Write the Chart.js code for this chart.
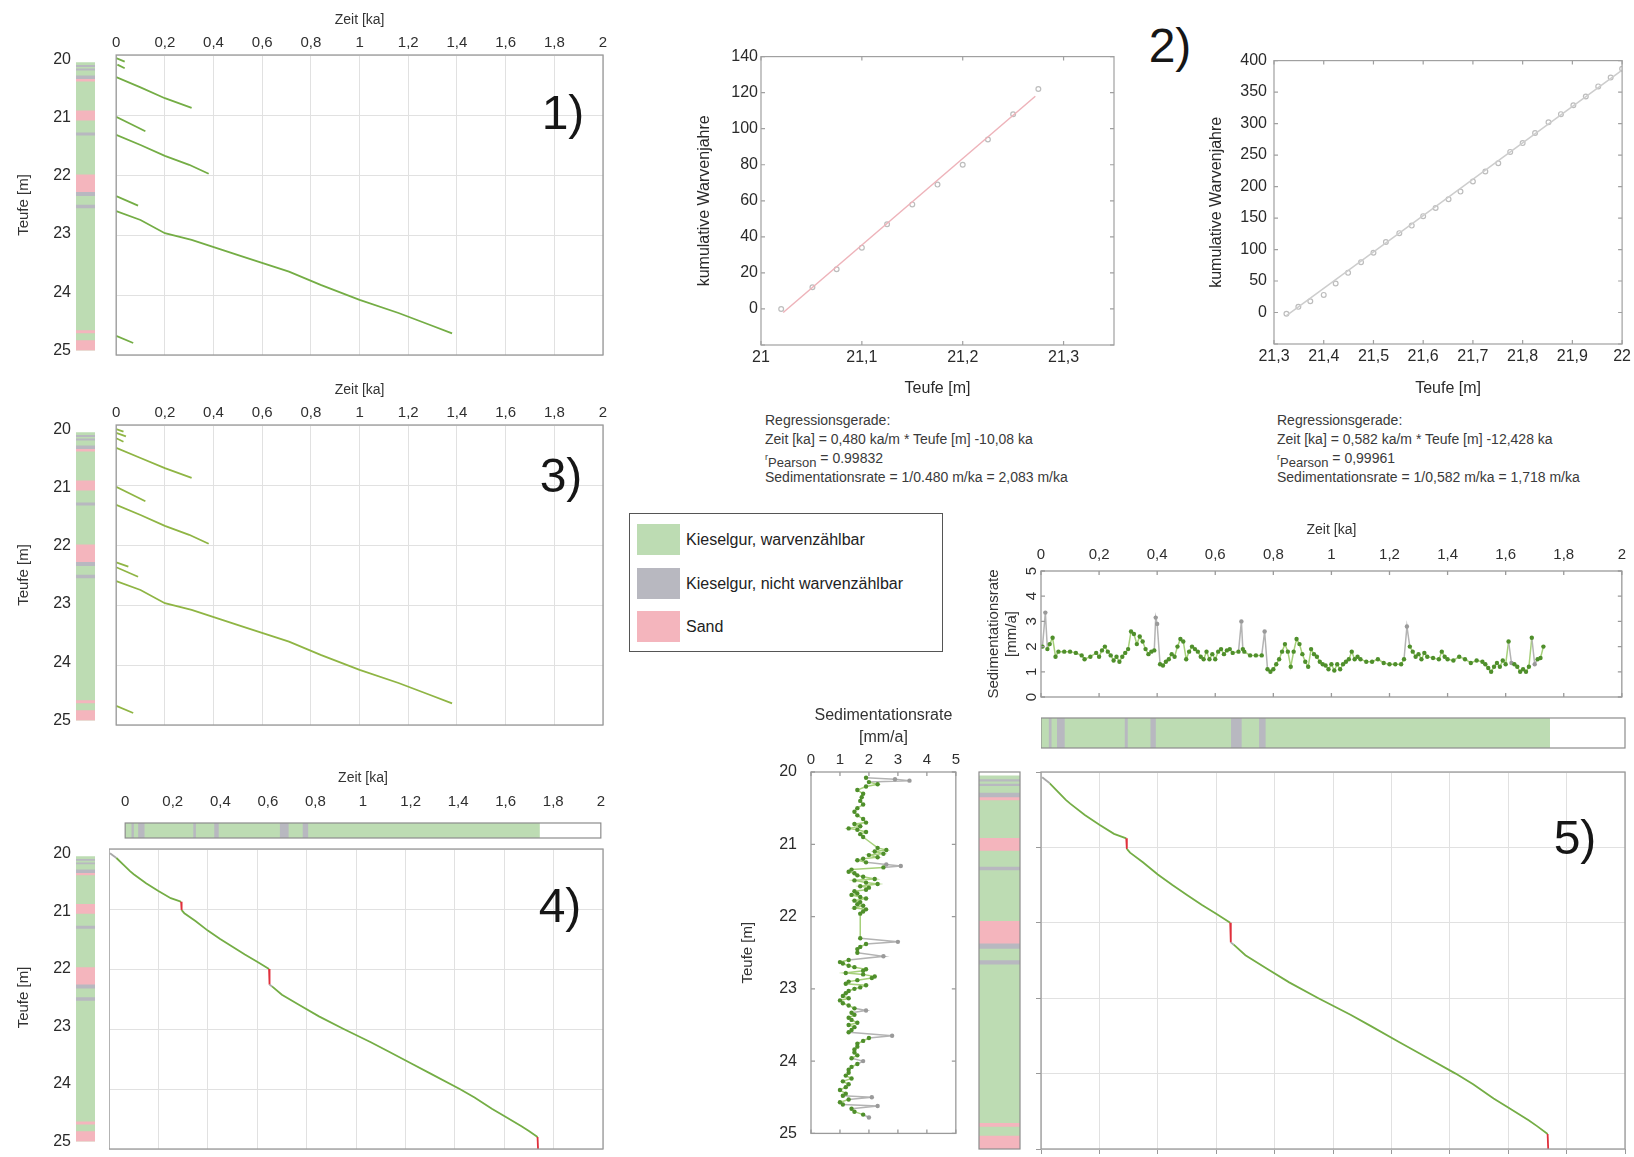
<!DOCTYPE html>
<html><head><meta charset="utf-8">
<script src="https://cdn.jsdelivr.net/npm/chart.js@4.4.1/dist/chart.umd.min.js"></script>
<style>
html,body{margin:0;padding:0;background:#fff;}
#wrap{position:relative;width:1634px;height:1157px;overflow:hidden;font-family:'Liberation Sans',Arial,Helvetica,sans-serif;background:#fff;}
#wrap canvas{position:absolute;}
.num{position:absolute;font-size:48px;line-height:1;color:#161616;transform:translate(-50%,-50%);white-space:nowrap;}
.reg{position:absolute;font-size:14px;line-height:18.5px;color:#3a3a3a;white-space:nowrap;}
.reg sub{font-size:13px;vertical-align:-4px;line-height:0;}
.reg .r{font-size:9px;vertical-align:3px;}
#legend{position:absolute;left:629px;top:513px;width:314px;height:139px;border:1.5px solid #555;box-sizing:border-box;}
.lrow{position:absolute;left:7px;height:31px;}
.lsw{position:absolute;left:0;top:0;width:43px;height:31px;}
.ltx{position:absolute;left:49px;top:0;line-height:31px;font-size:16px;color:#222;white-space:nowrap;}
</style></head>
<body><div id="wrap"></div>
<script>
// ---------------- DATA ----------------
// lithology column (depth intervals, m)
const litFrom = [20.05, 20.10, 20.16, 20.28, 20.33, 20.88, 21.26, 21.98, 22.27, 22.50, 24.66, 24.83];
const litTo   = [25.00, 20.12, 20.18, 20.33, 20.37, 21.04, 21.30, 22.27, 22.34, 22.55, 24.70, 25.00];
const litType = ['g','n','n','n','s','s','n','s','n','n','s','s'];
const legendTypes  = ['g','n','s'];
const legendLabels = ['Kieselgur, warvenzählbar','Kieselgur, nicht warvenzählbar','Sand'];

// lithology strip along time axis (ka)
const stripFrom = [0.000, 0.028, 0.056, 0.288, 0.376, 0.652, 0.748];
const stripTo   = [1.742, 0.035, 0.080, 0.296, 0.392, 0.686, 0.768];
const stripType = ['g','n','n','n','n','n','n'];

// panel 1: floating age segments (time ka / depth m)
const p1SegT = [[0,0.035],[0.005,0.035],[0,0.1,0.2,0.31],[0,0.06,0.12],[0,0.1,0.2,0.3,0.38],[0,0.09],
  [0,0.1,0.2,0.31,0.52,0.71,0.84,1.0,1.16,1.29,1.38],[0,0.07]];
const p1SegD = [[20.05,20.11],[20.16,20.22],[20.37,20.54,20.72,20.88],[21.03,21.15,21.27],[21.33,21.5,21.68,21.83,21.98],[22.35,22.51],
  [22.6,22.75,22.97,23.08,23.36,23.61,23.83,24.08,24.3,24.5,24.64],[24.68,24.8]];
// panel 3
const p3SegT = [[0,0.03],[0,0.04],[0,0.03],[0,0.1,0.2,0.31],[0,0.06,0.12],[0,0.1,0.2,0.3,0.38],[0,0.05],[0,0.09],
  [0,0.1,0.2,0.31,0.52,0.71,0.84,1.0,1.16,1.29,1.38],[0,0.07]];
const p3SegD = [[20.07,20.11],[20.13,20.19],[20.22,20.28],[20.38,20.55,20.72,20.88],[21.03,21.15,21.27],[21.33,21.5,21.68,21.83,21.98],[22.29,22.36],[22.37,22.53],
  [22.6,22.75,22.97,23.08,23.36,23.61,23.83,24.08,24.3,24.5,24.64],[24.68,24.8]];

// panels 4 & 5: combined age model
const ageT = [0.004,0.03,0.06,0.085,0.10,0.15,0.20,0.25,0.285,0.292,0.294,0.305,0.35,0.40,0.45,0.50,0.55,0.60,0.648,0.650,0.66,0.70,0.774,0.85,0.95,1.06,1.13,1.226,1.30,1.42,1.48,1.55,1.60,1.67,1.70,1.735,1.737];
const ageD = [20.07,20.15,20.27,20.37,20.42,20.57,20.70,20.82,20.87,20.88,21.02,21.07,21.20,21.36,21.50,21.63,21.76,21.88,22.00,22.26,22.29,22.43,22.61,22.79,23.00,23.22,23.37,23.58,23.74,24.00,24.14,24.33,24.45,24.62,24.70,24.80,25.00];
const ageClass = ['n','g','g','g','g','g','g','g','g','s','g','g','g','g','g','g','g','g','s','n','g','g','g','g','g','g','g','g','g','g','g','g','g','g','g','s'];

// panel 2: cumulative varve years
const p2aX = [21.02,21.051,21.075,21.1,21.125,21.15,21.175,21.2,21.225,21.25,21.275];
const p2aY = [0,12,22,34,47,58,69,80,94,108,122];
const reg2aX = [21.022,21.272];
const reg2aY = [-2,118];
const p2bX = [21.325,21.349,21.373,21.4,21.424,21.449,21.475,21.5,21.525,21.552,21.577,21.6,21.625,21.651,21.675,21.7,21.725,21.751,21.775,21.8,21.825,21.852,21.877,21.902,21.927,21.952,21.977,22.0];
const p2bY = [-2,9,18,28,46,63,80,95,112,126,138,153,166,180,192,208,224,237,255,269,285,302,315,329,343,359,373,387];
const reg2bX = [21.325,22.0];
const reg2bY = [-5,385];

// panel 5: sedimentation rate vs time
const rateT = [0.005,0.015,0.022,0.03,0.04,0.05,0.06,0.08,0.10,0.12,0.14,0.15,0.17,0.19,0.20,0.21,0.22,0.23,0.24,0.25,0.26,0.27,0.28,0.29,0.30,0.31,0.32,0.33,0.34,0.35,0.36,0.37,0.38,0.39,0.395,0.40,0.41,0.42,0.43,0.44,0.45,0.46,0.47,0.48,0.49,0.50,0.51,0.52,0.53,0.54,0.55,0.56,0.57,0.58,0.59,0.60,0.61,0.62,0.63,0.64,0.65,0.66,0.68,0.69,0.695,0.70,0.72,0.74,0.76,0.77,0.78,0.79,0.80,0.81,0.82,0.83,0.84,0.85,0.86,0.87,0.88,0.89,0.90,0.91,0.92,0.93,0.94,0.95,0.96,0.97,0.98,0.99,1.00,1.01,1.02,1.03,1.04,1.05,1.06,1.07,1.08,1.09,1.10,1.12,1.14,1.16,1.18,1.20,1.22,1.24,1.25,1.26,1.27,1.28,1.29,1.30,1.31,1.32,1.33,1.35,1.37,1.38,1.39,1.40,1.42,1.44,1.46,1.48,1.50,1.52,1.53,1.54,1.55,1.56,1.57,1.58,1.59,1.60,1.61,1.62,1.63,1.64,1.65,1.66,1.67,1.68,1.69,1.70,1.71,1.72,1.73];
const rateV = [2.0,3.35,1.9,2.1,2.35,1.6,1.8,1.8,1.8,1.75,1.65,1.5,1.6,1.75,1.6,1.85,2.0,1.8,1.65,1.45,1.6,1.4,1.6,1.75,1.9,2.6,2.5,2.1,2.4,2.2,1.9,1.7,1.8,1.85,3.15,2.9,1.3,1.25,1.4,1.5,1.7,1.6,2.0,2.3,2.2,1.5,1.8,2.0,1.9,1.8,1.6,1.5,1.8,1.5,1.7,1.5,1.8,1.9,1.7,1.85,1.9,1.75,1.8,3.0,1.9,1.8,1.65,1.65,1.65,2.6,1.1,1.0,1.1,1.3,1.5,1.8,2.1,1.8,1.2,1.8,2.3,2.1,1.7,1.4,1.2,1.9,1.7,1.6,1.4,1.3,1.25,1.1,1.3,1.05,1.3,1.1,1.3,1.4,1.5,1.8,1.5,1.6,1.5,1.4,1.4,1.5,1.35,1.3,1.3,1.3,1.5,2.8,2.0,1.8,1.6,1.7,1.5,1.75,1.6,1.55,1.5,1.8,1.6,1.5,1.45,1.6,1.5,1.35,1.45,1.4,1.3,1.15,1.0,1.2,1.35,1.2,1.45,1.3,2.2,1.35,1.3,1.2,1.0,1.1,1.0,1.2,2.35,1.3,1.5,1.55,2.0];
const rateClass = ['g','n','g','g','g','g','g','g','g','g','g','g','g','g','g','g','g','g','g','g','g','g','g','g','g','g','g','g','g','g','g','g','g','g','n','n','g','g','g','g','g','g','g','g','g','g','g','g','g','g','g','g','g','g','g','g','g','g','g','g','g','g','g','n','g','g','g','g','g','n','g','g','g','g','g','g','g','g','g','g','g','g','g','g','g','g','g','g','g','g','g','g','g','g','g','g','g','g','g','g','g','g','g','g','g','g','g','g','g','g','g','n','g','g','g','g','g','g','g','g','g','g','g','g','g','g','g','g','g','g','g','g','g','g','g','g','g','g','g','n','g','g','g','g','g','g','g','n','g','g','g','g'];

// panel 5: sedimentation rate vs depth
const profD = [20.08,20.10,20.12,20.14,20.17,20.20,20.25,20.30,20.35,20.40,20.45,20.50,20.55,20.60,20.65,20.70,20.72,20.75,20.78,20.80,20.83,20.86,20.90,21.05,21.08,21.10,21.13,21.15,21.18,21.20,21.22,21.25,21.28,21.30,21.32,21.35,21.38,21.40,21.43,21.45,21.48,21.50,21.53,21.55,21.58,21.60,21.63,21.65,21.68,21.70,21.73,21.75,21.78,21.80,21.83,21.85,21.88,21.90,21.93,21.96,22.30,22.35,22.38,22.42,22.45,22.50,22.55,22.60,22.63,22.65,22.68,22.70,22.73,22.75,22.78,22.80,22.83,22.85,22.88,22.90,22.93,22.95,22.98,23.00,23.03,23.06,23.10,23.13,23.16,23.20,23.23,23.27,23.30,23.33,23.36,23.40,23.43,23.47,23.50,23.53,23.57,23.60,23.65,23.68,23.72,23.76,23.80,23.84,23.88,23.92,23.96,24.00,24.04,24.08,24.12,24.16,24.20,24.24,24.28,24.32,24.36,24.40,24.45,24.48,24.50,24.53,24.57,24.60,24.62,24.66,24.70,24.74,24.78];
const profV = [1.9,2.9,3.4,2.0,2.3,1.9,1.6,1.8,1.75,1.7,1.8,1.6,1.5,1.6,1.8,1.9,1.5,1.7,1.3,1.6,1.9,1.7,1.8,2.3,2.6,2.2,2.5,2.0,2.3,1.8,1.6,1.9,2.6,3.1,2.5,1.4,1.3,1.5,1.6,1.8,2.2,1.5,1.9,2.3,1.7,2.0,1.9,1.5,1.6,1.4,1.7,1.9,1.5,1.7,1.6,1.8,1.5,1.9,1.8,1.7,1.7,3.0,1.9,1.7,1.6,1.6,2.5,1.3,1.0,1.1,1.3,1.5,1.9,1.8,1.2,1.8,2.2,2.1,1.6,1.3,1.2,1.9,1.7,1.5,1.3,1.2,1.1,1.3,1.0,1.1,1.3,1.5,1.9,1.4,1.5,1.3,1.4,1.6,1.3,1.5,1.4,1.3,2.8,2.0,1.8,1.6,1.6,1.5,1.5,1.6,1.4,1.8,1.6,1.4,1.3,1.3,1.2,1.4,1.1,1.3,1.2,1.0,1.2,1.1,2.1,1.3,1.0,1.1,2.3,1.4,1.5,1.8,2.0];
const profClass = ['g','n','n','g','g','g','g','g','g','g','g','g','g','g','g','g','g','g','g','g','g','g','g','g','g','g','g','g','g','g','g','g','n','n','g','g','g','g','g','g','g','g','g','g','g','g','g','g','g','g','g','g','g','g','g','g','g','g','g','g','g','n','g','g','g','g','n','g','g','g','g','g','g','g','g','g','g','g','g','g','g','g','g','g','g','g','g','g','g','g','g','g','n','g','g','g','g','g','g','g','g','g','n','g','g','g','g','g','g','g','g','n','g','g','g','g','g','g','g','g','g','g','g','g','n','g','g','g','n','g','g','g','n'];

// ---------------- STYLE / HELPERS ----------------
const COL  = {g:'#bddcb3', n:'#b8b8c0', s:'#f4b5bd'};
const LINE = {g:'#74ad45', n:'#a8a8a8', s:'#e0303c'};
const GRID = '#e1e1e1';
Chart.defaults.font.family = "'Liberation Sans', Arial, Helvetica, sans-serif";
Chart.defaults.color = '#333';
Chart.defaults.animation = false;
Chart.defaults.responsive = false;
Chart.defaults.maintainAspectRatio = false;
Chart.defaults.plugins.legend.display = false;
Chart.defaults.plugins.tooltip.enabled = false;

const fmt = v => String(Math.round(v*1000)/1000).replace('.', ',');
const fixW = w => s => { s.width = w; };
const fixH = h => s => { s.height = h; };

Chart.register({
  id:'frame',
  afterDatasetsDraw(chart, args, o){
    if(!o || !o.color) return;
    const {ctx, chartArea:a} = chart;
    ctx.save();
    ctx.strokeStyle = o.color; ctx.lineWidth = o.width || 1.3;
    ctx.strokeRect(a.left, a.top, a.right-a.left, a.bottom-a.top);
    if(o.inTicks){
      const L = o.inTicks, xs = chart.scales.x, ys = chart.scales.y;
      ctx.beginPath();
      xs.ticks.forEach(t=>{const p = xs.getPixelForValue(t.value); ctx.moveTo(p,a.top); ctx.lineTo(p,a.top+L); ctx.moveTo(p,a.bottom); ctx.lineTo(p,a.bottom-L);});
      ys.ticks.forEach(t=>{const p = ys.getPixelForValue(t.value); ctx.moveTo(a.left,p); ctx.lineTo(a.left+L,p); ctx.moveTo(a.right,p); ctx.lineTo(a.right-L,p);});
      ctx.stroke();
    }
    ctx.restore();
  }
});
// y tick labels written rotated (reading upwards), as in the time-series panel
Chart.register({
  id:'rotYTicks',
  afterDraw(chart, args, o){
    if(!o || !o.on) return;
    const {ctx, chartArea:a} = chart, ys = chart.scales.y;
    ctx.save();
    ctx.fillStyle = o.color || '#2f2f2f';
    ctx.font = (o.size||15) + "px 'Liberation Sans', Arial, sans-serif";
    ctx.textAlign = 'center'; ctx.textBaseline = 'middle';
    ys.ticks.forEach(t=>{
      const p = ys.getPixelForValue(t.value);
      ctx.save(); ctx.translate(a.left - (o.offset||9), p); ctx.rotate(-Math.PI/2);
      ctx.fillText(String(t.value), 0, 0); ctx.restore();
    });
    ctx.restore();
  }
});

const wrap = document.getElementById('wrap');
function cv(L,T,W,H,m){
  const c = document.createElement('canvas');
  const w = W+m.l+m.r, h = H+m.t+m.b;
  c.width = w; c.height = h;
  c.style.left = (L-m.l)+'px'; c.style.top = (T-m.t)+'px';
  c.style.width = w+'px'; c.style.height = h+'px';
  wrap.appendChild(c);
  return c;
}
const pts = (xs, ys) => xs.map((x,i)=>({x:x, y:ys[i]}));

// base (green) interval drawn first, overlays on top
function intervalSets(from, to, type){
  return from.map((f,i)=>({data:[[f, to[i]]], backgroundColor:COL[type[i]], grouped:false,
    barPercentage:1, categoryPercentage:1, borderWidth:0, order: type[i]==='g' ? 1 : 0}));
}

function columnChart(L,T,W,H,m,withAxis,framed){
  new Chart(cv(L,T,W,H,m), {type:'bar', data:{labels:['Kern'], datasets:intervalSets(litFrom, litTo, litType)},
    options:{devicePixelRatio:1,
      layout:{padding:{left:withAxis?0:m.l, top:m.t, right:m.r, bottom:m.b}},
      scales:{
        x:{display:false},
        y:{reverse:true, min:20, max:25, afterFit:fixW(withAxis?m.l:0),
           ticks:{display:!!withAxis, stepSize:1, padding:5, font:{size:16}, color:'#2a2a2a'},
           grid:{display:false, drawTicks:false}, border:{display:false},
           title:{display:!!withAxis, text:'Teufe [m]', font:{size:15}, padding:0, color:'#333'}}
      },
      plugins:{frame:{color:framed?'#8c8c8c':null, width:1.2}}
    }});
}

function stripChart(L,T,W,H,m,withAxis){
  new Chart(cv(L,T,W,H,m), {type:'bar', data:{labels:['Zeit'], datasets:intervalSets(stripFrom, stripTo, stripType)},
    options:{devicePixelRatio:1, indexAxis:'y',
      layout:{padding:{left:m.l, top:withAxis?0:m.t, right:m.r, bottom:m.b}},
      scales:{
        x:{type:'linear', position:'top', min:0, max:2, afterFit:fixH(withAxis?m.t:0),
           ticks:{display:withAxis, stepSize:0.2, autoSkip:false, maxRotation:0, callback:fmt, padding:12, font:{size:15}, color:'#2f2f2f'},
           grid:{display:false, drawTicks:false}, border:{display:false},
           title:{display:withAxis, text:'Zeit [ka]', font:{size:14}, padding:0, color:'#333'}},
        y:{display:false}
      },
      plugins:{frame:{color:'#8c8c8c', width:1.2}}
    }});
}

function depthTimeChart(L,T,W,H,m,datasets,topAxis,outTicks){
  new Chart(cv(L,T,W,H,m), {type:'scatter', data:{datasets},
    options:{devicePixelRatio:1,
      layout:{padding:{left:m.l, top:topAxis?0:m.t, right:m.r, bottom:outTicks?0:m.b}},
      scales:{
        x:{type:'linear', position:topAxis?'top':'bottom', min:0, max:2, afterFit:fixH(topAxis?m.t:(outTicks?m.b:0)),
           ticks:{display:topAxis, stepSize:0.2, autoSkip:false, maxRotation:0, callback:fmt, padding:3, font:{size:15}, color:'#2f2f2f'},
           grid:{color:GRID, drawTicks:!!outTicks, tickLength:5, tickColor:'#999'}, border:{display:false},
           title:{display:topAxis, text:'Zeit [ka]', font:{size:14}, padding:0, color:'#333'}},
        y:{type:'linear', reverse:true, min:20, max:25, afterFit:fixW(0),
           ticks:{display:false, stepSize:1},
           grid:{color:GRID, drawTicks:!!outTicks, tickLength:5, tickColor:'#999'}, border:{display:false}}
      },
      plugins:{frame:{color:'#9a9a9a', width:1.3}}
    }});
}

const segSet = (Ts, Ds, color) => Ts.map((t,i)=>({data:pts(t, Ds[i]), showLine:true, borderColor:color, borderWidth:1.8, pointRadius:0}));
const ageSet = () => [{data:pts(ageT, ageD), showLine:true, borderWidth:1.8, pointRadius:0, borderColor:LINE.g,
   segment:{borderColor:c => LINE[ageClass[c.p0DataIndex]]}}];

// ---------------- PANELS 1, 3, 4 ----------------
columnChart(76, 55, 19, 300, {l:61,t:10,r:2,b:10}, 1, false);
depthTimeChart(109, 55, 494, 300, {l:0,t:43,r:14,b:3}, segSet(p1SegT, p1SegD, '#74ad45'), true, false);

columnChart(76, 425, 19, 300, {l:61,t:10,r:2,b:10}, 1, false);
depthTimeChart(109, 425, 494, 300, {l:0,t:43,r:14,b:3}, segSet(p3SegT, p3SegD, '#8fb544'), true, false);

stripChart(109, 823, 494, 15, {l:0,t:53,r:14,b:2}, true);
columnChart(76, 849, 19, 300, {l:61,t:10,r:2,b:7}, 1, false);
depthTimeChart(109, 849, 494, 300, {l:0,t:3,r:14,b:3}, ageSet(), false, false);

// ---------------- PANEL 2 ----------------
function cumChart(L,T,W,H,m,xs,ys,rx,ry,xmin,xmax,ymin,ymax,ystep,regColor,yPad){
  new Chart(cv(L,T,W,H,m), {type:'scatter', data:{datasets:[
      {data:pts(rx, ry), showLine:true, borderColor:regColor, borderWidth:1.5, pointRadius:0},
      {data:pts(xs, ys), pointRadius:2.4, pointBackgroundColor:'rgba(0,0,0,0)', pointBorderColor:'#bdbdbd', pointBorderWidth:1.2}
    ]},
    options:{devicePixelRatio:1,
      layout:{padding:{left:0, top:m.t, right:m.r, bottom:0}},
      scales:{
        x:{type:'linear', min:xmin, max:xmax, afterFit:fixH(m.b),
           ticks:{stepSize:0.1, includeBounds:false, autoSkip:false, maxRotation:0, callback:fmt, padding:3, font:{size:16}, color:'#2a2a2a'},
           grid:{display:false, drawTicks:false}, border:{display:false},
           title:{display:true, text:'Teufe [m]', font:{size:16}, padding:0, color:'#2a2a2a'}},
        y:{type:'linear', min:ymin, max:ymax, afterFit:fixW(m.l),
           ticks:{stepSize:ystep, callback:v => v < 0 ? '' : fmt(v), padding:yPad, font:{size:16}, color:'#2a2a2a'},
           grid:{display:false, drawTicks:false}, border:{display:false},
           title:{display:true, text:'kumulative Warvenjahre', font:{size:16}, padding:0, color:'#2a2a2a'}}
      },
      plugins:{frame:{color:'#a0a0a0', width:1.2, inTicks:4}}
    }});
}
cumChart(761, 54, 353, 291, {l:66,t:10,r:12,b:53}, p2aX, p2aY, reg2aX, reg2aY, 21, 21.35, -20, 140, 20, '#eeb3ba', 3);
cumChart(1274, 54, 350, 290, {l:67,t:10,r:10,b:54}, p2bX, p2bY, reg2bX, reg2bY, 21.3, 22, -50, 400, 50, '#cdcdcd', 7);

// ---------------- PANEL 5 ----------------
// rate vs time
new Chart(cv(1041, 571, 584, 128, {l:56,t:49,r:8,b:2}), {type:'scatter', data:{datasets:[
    {data:pts(rateT, rateV), showLine:true, borderColor:'#a6d07a', borderWidth:1.5,
     pointRadius:2.2, pointBorderWidth:0,
     pointBackgroundColor:c => rateClass[c.dataIndex]==='n' ? '#9a9a9a' : '#4f8f2b',
     segment:{borderColor:c => (rateClass[c.p0DataIndex]==='n' || rateClass[c.p1DataIndex]==='n') ? '#b3b3b3' : '#a6d07a'}}
  ]},
  options:{devicePixelRatio:1,
    layout:{padding:{left:0, top:0, right:8, bottom:2}},
    scales:{
      x:{type:'linear', position:'top', min:0, max:2, afterFit:fixH(49),
         ticks:{stepSize:0.2, autoSkip:false, maxRotation:0, callback:fmt, padding:7, font:{size:15}, color:'#2f2f2f'},
         grid:{display:false, drawTicks:false}, border:{display:false},
         title:{display:true, text:'Zeit [ka]', font:{size:14}, padding:0, color:'#333'}},
      y:{type:'linear', min:0, max:5, afterFit:fixW(56),
         ticks:{stepSize:1, display:false},
         grid:{display:false, drawTicks:false}, border:{display:false},
         title:{display:true, text:['Sedimentationsrate','[mm/a]'], font:{size:15}, padding:0, color:'#333'}}
    },
    plugins:{frame:{color:'#9a9a9a', width:1.3, inTicks:4}, rotYTicks:{on:true, size:15, offset:9}}
  }});
stripChart(1041, 718, 584, 30, {l:0,t:3,r:8,b:3}, false);

// rate vs depth
new Chart(cv(811, 772, 146, 377, {l:72,t:68,r:6,b:8}), {type:'scatter', data:{datasets:[
    {data:pts(profV, profD), showLine:true, borderColor:'#a6d07a', borderWidth:1.5,
     pointRadius:2.2, pointBorderWidth:0,
     pointBackgroundColor:c => profClass[c.dataIndex]==='n' ? '#9a9a9a' : '#4f8f2b',
     segment:{borderColor:c => (profClass[c.p0DataIndex]==='n' || profClass[c.p1DataIndex]==='n') ? '#b3b3b3' : '#a6d07a'}}
  ]},
  options:{devicePixelRatio:1,
    layout:{padding:{left:0, top:0, right:6, bottom:8}},
    scales:{
      x:{type:'linear', position:'top', min:0, max:5, afterFit:fixH(68),
         ticks:{stepSize:1, autoSkip:false, maxRotation:0, padding:3, font:{size:15}, color:'#2f2f2f'},
         grid:{display:false, drawTicks:false}, border:{display:false},
         title:{display:true, text:['Sedimentationsrate','[mm/a]'], font:{size:16, lineHeight:1.4}, padding:0, color:'#333'}},
      y:{type:'linear', reverse:true, min:20, max:25, afterFit:fixW(72),
         ticks:{stepSize:1, padding:14, font:{size:16}, color:'#2a2a2a'},
         grid:{display:false, drawTicks:false}, border:{display:false},
         title:{display:true, text:'Teufe [m]', font:{size:15}, padding:0, color:'#333'}}
    },
    plugins:{frame:{color:'#9a9a9a', width:1.3, inTicks:4}}
  }});

columnChart(979, 772, 41, 377, {l:6,t:6,r:6,b:6}, 0, true);
depthTimeChart(1041, 772, 584, 377, {l:6,t:3,r:8,b:7}, ageSet(), false, true);

// ---------------- TEXT ----------------
function addDiv(cls, html, x, y){ const d=document.createElement('div'); d.className=cls; d.innerHTML=html; d.style.left=x+'px'; d.style.top=y+'px'; wrap.appendChild(d); return d; }
addDiv('num','1)',563,113);
addDiv('num','2)',1170,46);
addDiv('num','3)',561,476);
addDiv('num','4)',560,906);
addDiv('num','5)',1575,838);

const regA = ['Regressionsgerade:','Zeit [ka] = 0,480 ka/m * Teufe [m] -10,08 ka','<span class="r">r</span><sub>Pearson</sub> = 0.99832','Sedimentationsrate = 1/0.480 m/ka = 2,083 m/ka'];
const regB = ['Regressionsgerade:','Zeit [ka] = 0,582 ka/m * Teufe [m] -12,428 ka','<span class="r">r</span><sub>Pearson</sub> = 0,99961','Sedimentationsrate = 1/0,582 m/ka = 1,718 m/ka'];
addDiv('reg', regA.join('<br>'), 765, 411);
addDiv('reg', regB.join('<br>'), 1277, 411);

const lg = document.createElement('div'); lg.id='legend'; wrap.appendChild(lg);
legendTypes.forEach((t,i)=>{
  const r = document.createElement('div'); r.className='lrow'; r.style.top=(10+i*43.5)+'px';
  r.innerHTML = '<div class="lsw" style="background:'+COL[t]+'"></div><div class="ltx">'+legendLabels[i]+'</div>';
  lg.appendChild(r);
});
</script>
</body></html>
